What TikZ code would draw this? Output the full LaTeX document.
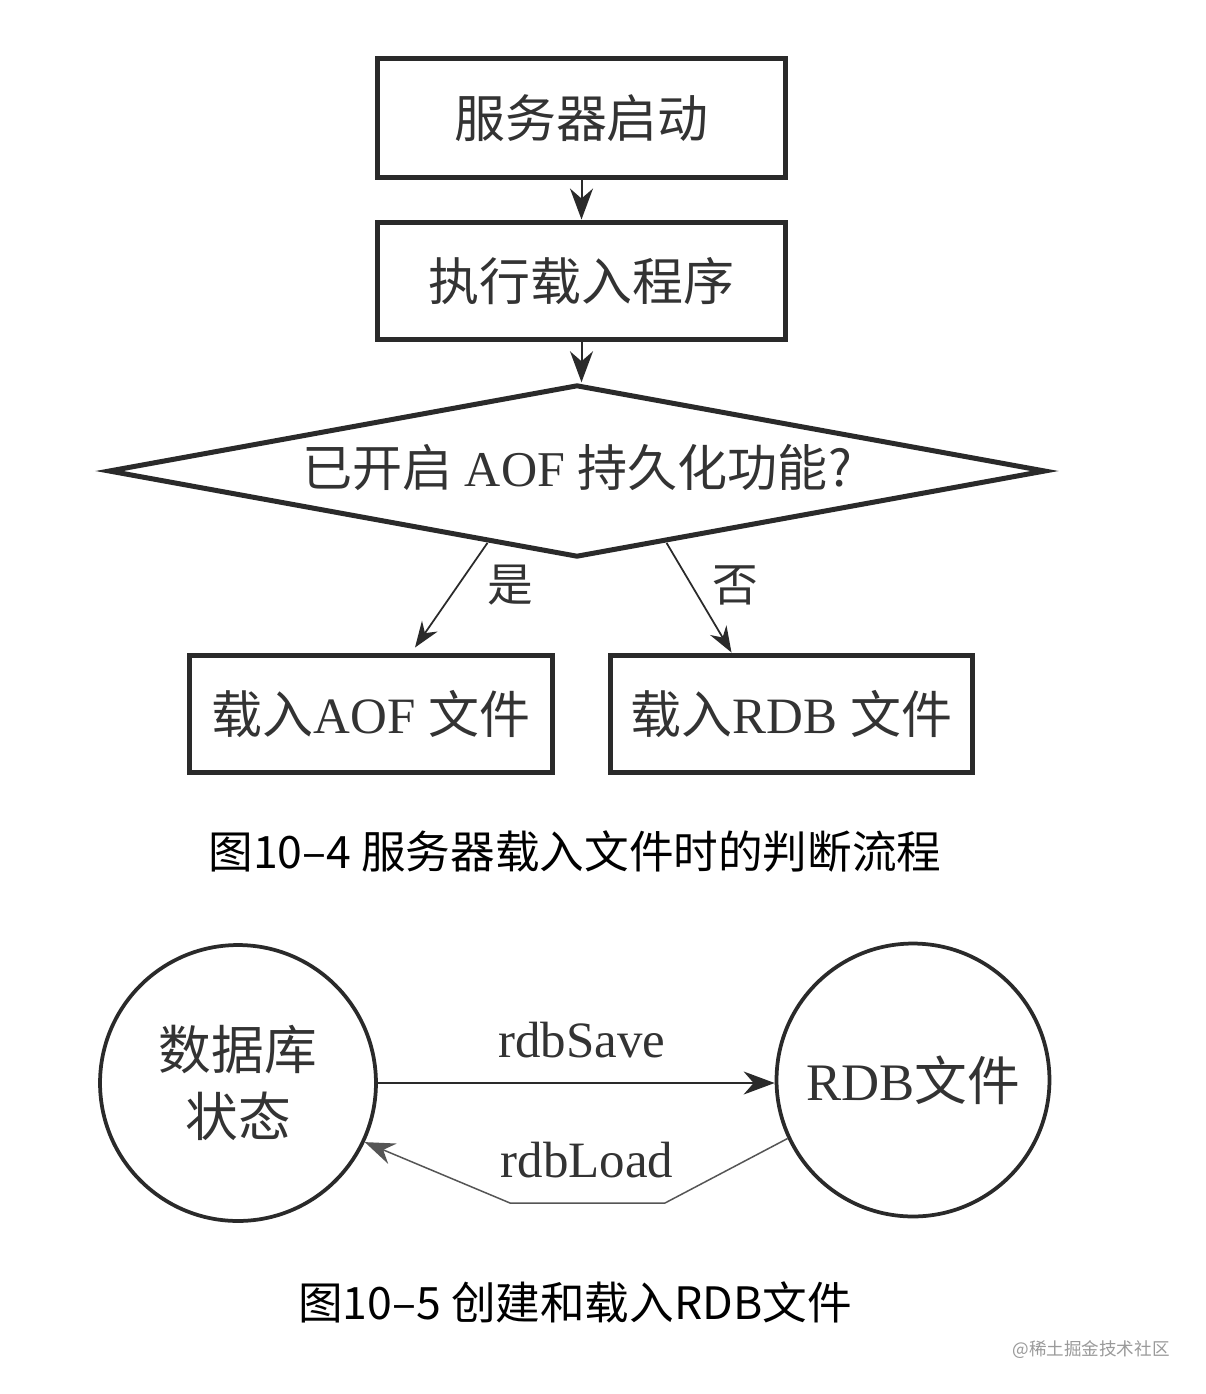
\documentclass[tikz,border=0pt]{standalone}
\usepackage{fontspec}
\setmainfont{Liberation Serif}
\newfontfamily\cjk{Noto Sans CJK SC}
\usetikzlibrary{shapes.geometric,arrows.meta,calc}
\definecolor{ink}{HTML}{2A2A2A}
\definecolor{txt}{HTML}{333333}
\definecolor{wm}{HTML}{9A9A9A}
\begin{document}
\begin{tikzpicture}[x=0.02cm,y=-0.02cm,
  box/.style={draw=ink,line width=0.1cm,minimum height=2.36cm,inner sep=0,
    font=\fontsize{29}{32}\selectfont,text=txt},
  decision/.style={draw=ink,line width=0.1cm,diamond,inner sep=0,aspect=5.4,
    minimum width=18.75cm,minimum height=3.45cm,font=\fontsize{28.5}{32}\selectfont,text=txt},
  state/.style={draw=ink,line width=0.075cm,circle,inner sep=0,minimum size=5.5cm,
    font=\fontsize{30}{34}\selectfont,text=txt,align=center},
  lbl/.style={font=\fontsize{26}{30}\selectfont,text=txt,inner sep=0},
  edgelbl/.style={font=\fontsize{29}{32}\selectfont,text=txt,inner sep=0},
  captext/.style={font=\cjk\fontsize{25.4}{30}\selectfont,text=black,inner sep=0},
  arr/.style={draw=ink,line width=0.04cm,-{Stealth[length=0.62cm,width=0.46cm,inset=0.2cm]}},
  arrs/.style={draw=ink,line width=0.035cm,-{Stealth[length=0.52cm,width=0.38cm,inset=0.17cm]}},
  arrl/.style={draw=ink!80,line width=0.03cm,-{Stealth[length=0.6cm,width=0.44cm,inset=0.2cm]}}]
\useasboundingbox[fill=white] (0,0) rectangle (1206,1394);

% flowchart
\node[box,minimum width=8.18cm,minimum height=2.4cm] (b1) at (581.5,118) {\cjk 服务器启动};
\node[box,minimum width=8.18cm] (b2) at (581.5,281) {\cjk 执行载入程序};
\node[decision] (d) at (577,471) {\makebox[0pt]{\raisebox{-0.3em}[0pt][0pt]{{\cjk 已开启}\ AOF\ {\cjk 持久化功能?}}}};
\node[box,minimum width=7.28cm,minimum height=2.34cm] (b3) at (371,713.5) {{\cjk 载入}AOF {\cjk 文件}};
\node[box,minimum width=7.26cm,minimum height=2.34cm] (b4) at (791.5,713.5) {{\cjk 载入}RDB {\cjk 文件}};

\draw[arr] (b1.south) -- (b2.north);
\draw[arr] (b2.south) -- (b2.south |- d.north);
\draw[arrs] ($(d.south)!0.19!(d.west)$) -- ([xshift=0.88cm,yshift=0.1cm]b3.north);
\draw[arrs] ($(d.south)!0.19!(d.east)$) -- ([xshift=-1.2cm]b4.north);
\node[lbl] (yes) at (510,585) {\cjk 是};
\node[lbl] (no) at (735,585) {\cjk 否};

\node[captext] (cap1) at (575,852) {图10–4\ 服务器载入文件时的判断流程};

% state diagram
\node[state,minimum size=5.52cm] (s1) at (238,1083) {\cjk 数据库\\[4pt]\cjk 状态};
\node[state,minimum size=5.46cm] (s2) at (913,1080) {RDB{\cjk 文件}};
\draw[arr] (s1.east |- 0,1083) -- (s2.west |- 0,1083);
\node[edgelbl] (save) at (582,1040) {rdbSave};
\coordinate (p1) at (665,1203);
\coordinate (p2) at (510,1203);
\draw[arrl] (s2.205) -- (p1) -- (p2) -- (s1.-25);
\node[edgelbl] (load) at (587,1160) {rdbLoad};

\node[captext] (cap2) at (575,1302) {图10–5 创建和载入RDB文件};
\node[font=\cjk\fontsize{10}{12}\selectfont,text=wm,inner sep=0] (wmk) at (1091,1350) {@稀土掘金技术社区};
\end{tikzpicture}
\end{document}
